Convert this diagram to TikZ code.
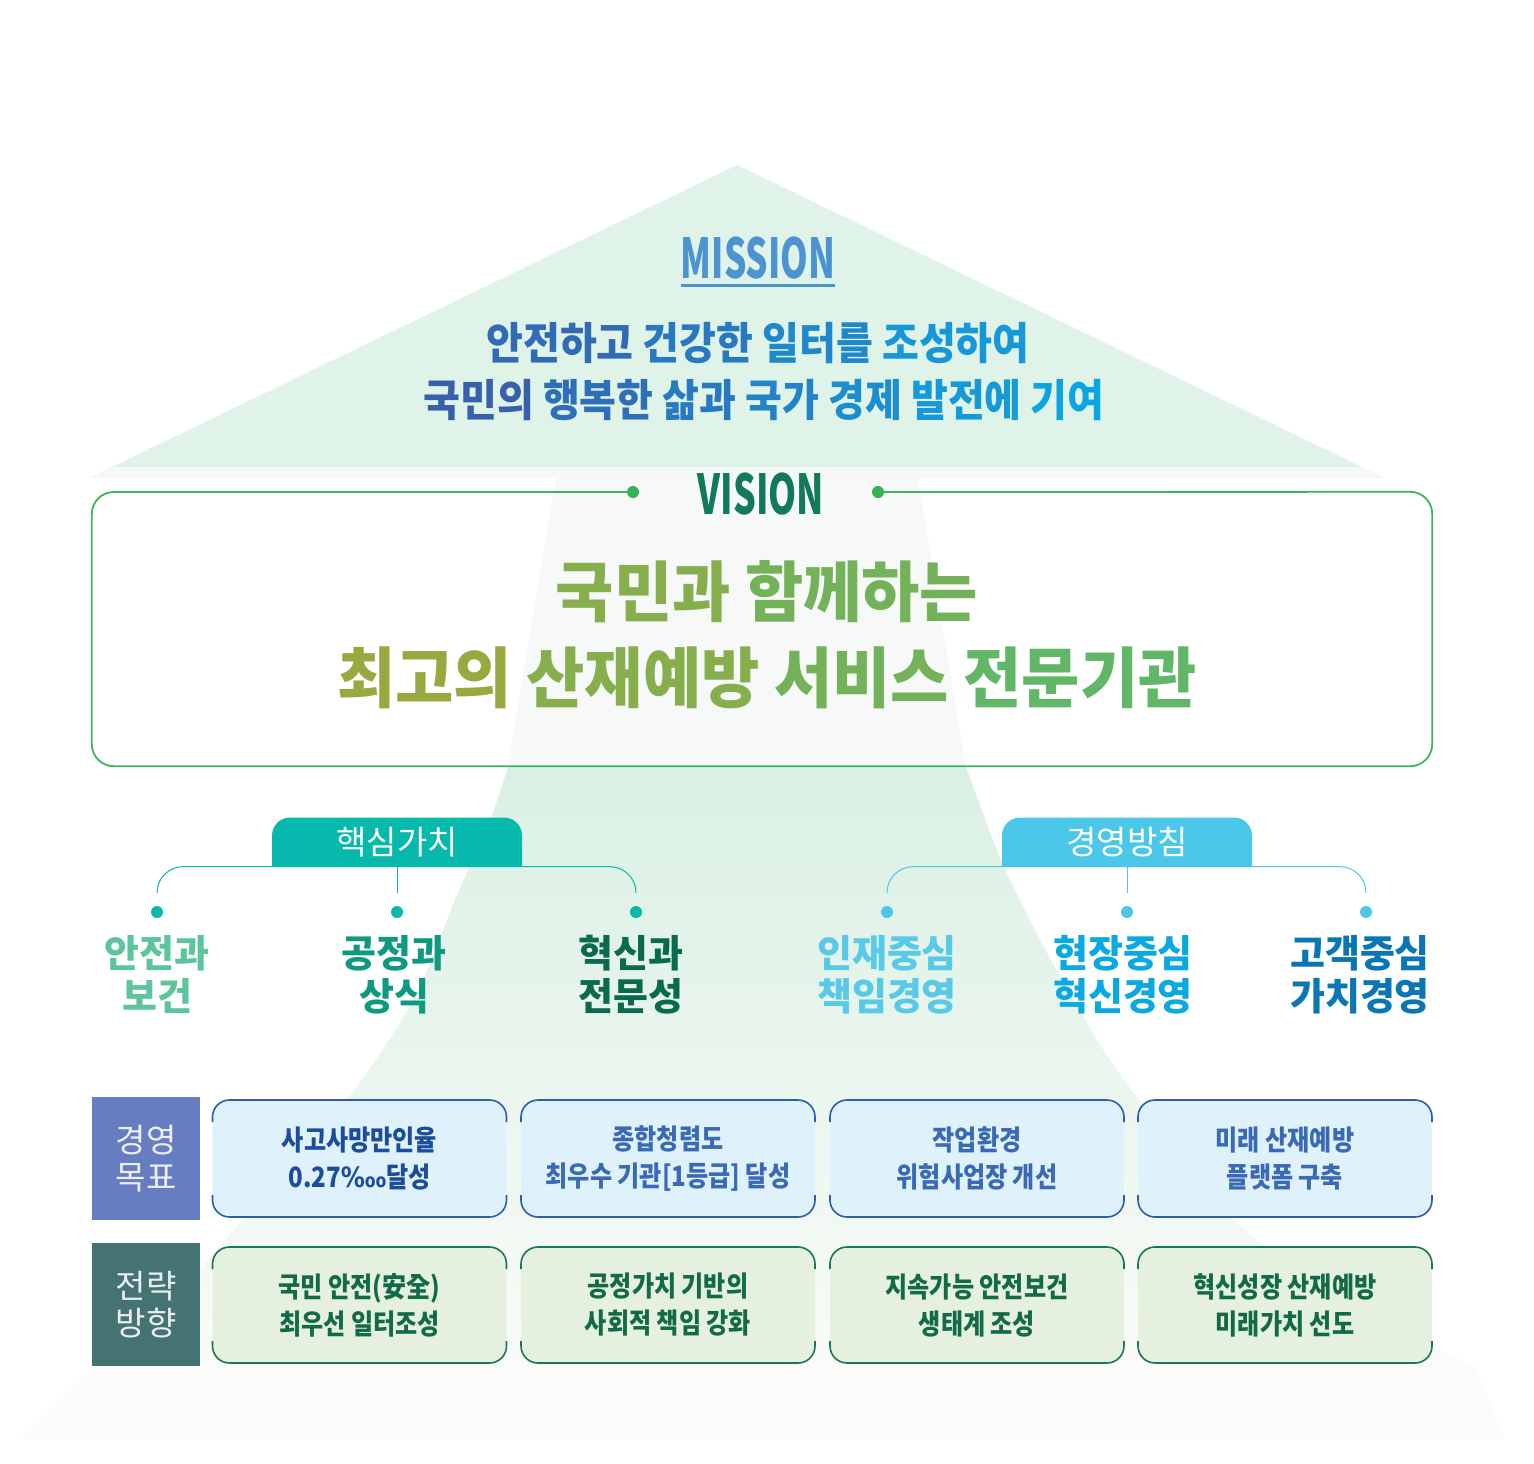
\documentclass[tikz,border=0pt]{standalone}
\usepackage{fontspec}
\setmainfont{Noto Sans CJK KR}
\newfontfamily\krmission{Noto Sans CJK KR}[FakeStretch=0.91]
\newfontfamily\krvision{Noto Sans CJK KR}[FakeStretch=0.96]
\newfontfamily\krbox{Noto Sans CJK KR}[FakeStretch=0.86]
\newfontfamily\symfont{DejaVu Sans}[FakeStretch=0.86]
\usetikzlibrary{positioning,calc}

\definecolor{mint}{HTML}{E0F3E9}
\definecolor{mintband}{HTML}{F4F9F6}
\definecolor{spotpale}{HTML}{F6F9F8}
\definecolor{spottop}{HTML}{DAF0E3}
\definecolor{spotbot}{HTML}{F9FBF8}
\definecolor{floorgrey}{HTML}{FBFBFA}
\definecolor{missionblue}{HTML}{4B93D1}
\definecolor{visiongreen}{HTML}{117A5C}
\definecolor{visline}{HTML}{3DB55B}
\definecolor{visdot}{HTML}{33B252}
\definecolor{hvteal}{HTML}{06B9AC}
\definecolor{mpblue}{HTML}{4AC7E9}
\definecolor{hvA}{HTML}{5CC59B}
\definecolor{hvB}{HTML}{0E9A80}
\definecolor{hvC}{HTML}{0A6A4E}
\definecolor{mpA}{HTML}{58C9E7}
\definecolor{mpB}{HTML}{0AA9E1}
\definecolor{mpC}{HTML}{0B76B6}
\definecolor{goalside}{HTML}{667EC1}
\definecolor{stratside}{HTML}{457273}
\definecolor{goalfill}{HTML}{DFF2FC}
\definecolor{goalline}{HTML}{2C5DAF}
\definecolor{goaltext}{HTML}{3A69B5}
\definecolor{goaltextdk}{HTML}{1C4C9C}
\definecolor{stratfill}{HTML}{E5F1DE}
\definecolor{stratline}{HTML}{1A7657}
\definecolor{strattext}{HTML}{126A49}
\definecolor{mA}{HTML}{3760AD}
\definecolor{mB}{HTML}{316AB5}
\definecolor{mC}{HTML}{2E6FB9}
\definecolor{mD}{HTML}{277AC1}
\definecolor{mE}{HTML}{2283C9}
\definecolor{mF}{HTML}{1F88CC}
\definecolor{mG}{HTML}{1B8DD1}
\definecolor{mH}{HTML}{1597D9}
\definecolor{mI}{HTML}{1499DA}
\definecolor{mJ}{HTML}{0DA4E3}
\definecolor{vA}{HTML}{99A93F}
\definecolor{vB}{HTML}{86AE4C}
\definecolor{vC}{HTML}{74B259}
\definecolor{vD}{HTML}{61B767}

\newcommand{\capbox}[2]{%
  \draw[#2, line width=1.6pt, rounded corners=17pt] ([yshift=-22pt]#1.north west) -- (#1.north west) -- (#1.north east) -- ([yshift=-22pt]#1.north east);
  \draw[#2, line width=1.6pt, rounded corners=17pt] ([yshift=22pt]#1.south west) -- (#1.south west) -- (#1.south east) -- ([yshift=22pt]#1.south east);}

\begin{document}
\begin{tikzpicture}[x=1pt, y=-1pt,
        title/.style={inner sep=0, text=#1, font=\fontsize{55}{60}\selectfont\bfseries},
        mline/.style={inner sep=0, font=\krmission\fontsize{44}{50}\selectfont\bfseries},
        vline/.style={inner sep=0, align=center, font=\krvision\fontsize{66}{86}\selectfont\bfseries},
        tab/.style={minimum width=250pt, minimum height=49pt, inner sep=0, text=white, font=\fontsize{33}{38}\selectfont,
            path picture={\fill[#1, rounded corners=18pt] (path picture bounding box.north west) rectangle ([yshift=-30pt]path picture bounding box.south east);}},
        dot/.style={circle, fill=#1, minimum size=12pt, inner sep=0},
        val/.style={inner sep=0, align=center, text=#1, font=\fontsize{38}{43}\selectfont\bfseries},
        side/.style={fill=#1, minimum width=108pt, minimum height=123pt, inner sep=0, align=center, text=white!88!#1, font=\fontsize{33}{37}\selectfont},
        goal/.style={fill=goalfill, rounded corners=17pt, minimum width=294pt, minimum height=117pt, inner sep=0, outer sep=0, align=center, text=goaltext, font=\krbox\fontsize{28}{37}\selectfont\bfseries},
        strat/.style={fill=stratfill, rounded corners=17pt, minimum width=294pt, minimum height=116pt, inner sep=0, outer sep=0, align=center, text=strattext, font=\krbox\fontsize{28}{37}\selectfont\bfseries}]

    \useasboundingbox (0,0) rectangle (1534,1464);
    \fill[white] (0,0) rectangle (1534,1464);

    \fill[mint] (737,165) -- (1362,467) -- (112,467) -- cycle;
    \fill[mintband] (112,467) -- (1362,467) -- (1385,478) -- (89,478) -- cycle;
    \fill[spotpale] (556,478) -- (918,478) -- (966,767) -- (508,767) -- cycle;
    \fill[floorgrey] (95,1365) -- (1475,1365) -- (1505,1440) -- (20,1440) -- cycle;
    \shade[top color=spottop, bottom color=spotbot]
        plot[smooth] coordinates {(508,767) (490,820) (455,900) (413,1000) (347,1100) (260,1200) (180,1290) (100,1365)}
        -- plot[smooth] coordinates {(1470,1365) (1340,1300) (1231,1217) (1139,1100) (1097,1040) (1040,940) (1001,860) (966,767)}
        -- cycle;

    \node [title=missionblue] (mtitle) at (758,258) {\scalebox{0.64}[1]{MISSION}};
    \draw [missionblue, line width=3.5pt] ([yshift=-6pt]mtitle.south west) -- ([yshift=-6pt]mtitle.south east);
    \node [mline] (mis1) at (758,343) {\color{mB}안전하고 \color{mD}건강한 \color{mF}일터를 \color{mH}조성하여};
    \node [mline] (mis2) at (764,400) {\color{mA}국민의 \color{mC}행복한 \color{mD}삶과 \color{mE}국가 \color{mG}경제 \color{mI}발전에 \color{mJ}기여};

    \node [title=visiongreen] (vtitle) at (761,494) {\scalebox{0.65}[1]{VISION}};
    \node [dot=visdot] (dl) at (633,492) {};
    \node [dot=visdot] (dr) at (878,492) {};
    \node [minimum width=1340pt, minimum height=274pt, inner sep=0] (vbox) at (762,629) {};
    \draw [visline, line width=1.8pt, rounded corners=22pt] (dl.center) -| (vbox.south west) -| (vbox.north east) -- (dr.center);
    \node [vline] (vtext) at (767,635) {\color{vB}국민과 \color{vC}함께하는\\\color{vA}최고의 \color{vB}산재예방 \color{vC}서비스 \color{vD}전문기관};

    \node [tab=hvteal] (hv) at (397,842) {핵심가치};
    \node [dot=hvteal] (hv1) at (157,912) {};
    \node [dot=hvteal] (hv2) at (397,912) {};
    \node [dot=hvteal] (hv3) at (636,912) {};
    \draw [hvteal, line width=1pt, rounded corners=26pt] ([yshift=13pt]hv1.north) |- (hv.south) -| ([yshift=13pt]hv3.north);
    \draw [hvteal, line width=1pt] (hv.south) -- ([yshift=13pt]hv2.north);
    \node [val=hvA, below=17pt of hv1] (hvv1) {안전과\\보건};
    \node [val=hvB, below=17pt of hv2, xshift=-3pt] (hvv2) {공정과\\상식};
    \node [val=hvC, below=17pt of hv3, xshift=-5pt] (hvv3) {혁신과\\전문성};

    \node [tab=mpblue] (mp) at (1127,842) {경영방침};
    \node [dot=mpblue] (mp1) at (887,912) {};
    \node [dot=mpblue] (mp2) at (1127,912) {};
    \node [dot=mpblue] (mp3) at (1366,912) {};
    \draw [mpblue, line width=1pt, rounded corners=26pt] ([yshift=13pt]mp1.north) |- (mp.south) -| ([yshift=13pt]mp3.north);
    \draw [mpblue, line width=1pt] (mp.south) -- ([yshift=13pt]mp2.north);
    \node [val=mpA, below=17pt of mp1] (mpv1) {인재중심\\책임경영};
    \node [val=mpB, below=17pt of mp2, xshift=-4pt] (mpv2) {현장중심\\혁신경영};
    \node [val=mpC, below=17pt of mp3, xshift=-6pt] (mpv3) {고객중심\\가치경영};

    \node [side=goalside] (gs) at (146,1158.5) {경영\\목표};
    \node [side=stratside] (ss) at (146,1304.5) {전략\\방향};

    \node [goal, text=goaltextdk] (g1) at (359.5,1158.5) {사고사망만인율\\0.27{\symfont ‱}달성};
    \node [goal, right=14.5pt of g1] (g2) {종합청렴도\\최우수 기관[1등급] 달성};
    \node [goal, right=15pt of g2] (g3) {작업환경\\위험사업장 개선};
    \node [goal, right=14pt of g3] (g4) {미래 산재예방\\플랫폼 구축};
    \node [strat, below=30pt of g1] (s1) {국민 안전(安全)\\최우선 일터조성};
    \node [strat, below=30pt of g2] (s2) {공정가치 기반의\\사회적 책임 강화};
    \node [strat, below=30pt of g3] (s3) {지속가능 안전보건\\생태계 조성};
    \node [strat, below=30pt of g4] (s4) {혁신성장 산재예방\\미래가치 선도};
    \capbox{g1}{goalline}\capbox{g2}{goalline}\capbox{g3}{goalline}\capbox{g4}{goalline}
    \capbox{s1}{stratline}\capbox{s2}{stratline}\capbox{s3}{stratline}\capbox{s4}{stratline}
\end{tikzpicture}
\end{document}
